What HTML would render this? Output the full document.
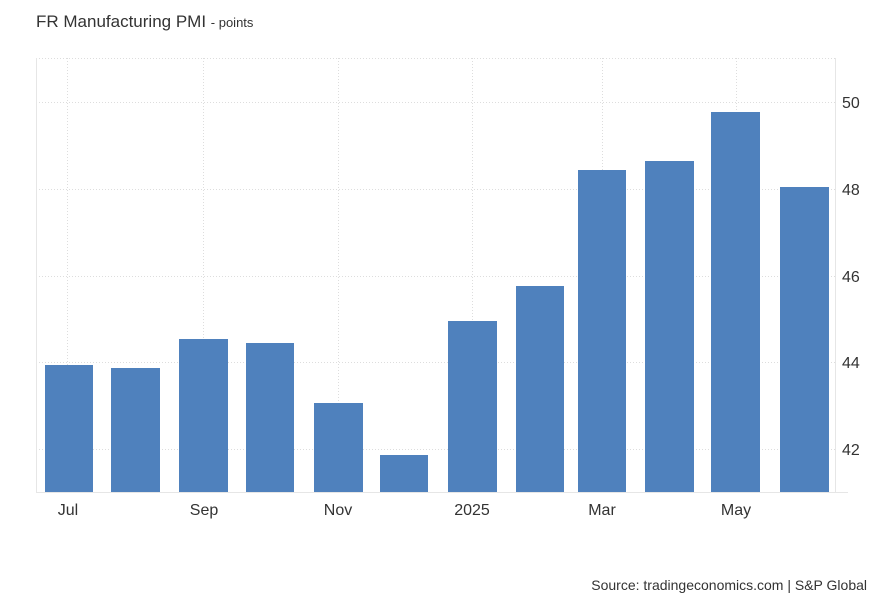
<!DOCTYPE html>
<html><head><style>
body{margin:0;background:#fff;width:882px;height:603px;overflow:hidden;font-family:"Liberation Sans",sans-serif}
</style></head><body>
<svg width="882" height="603" xmlns="http://www.w3.org/2000/svg" font-family="Liberation Sans, sans-serif">
<text x="36" y="27" font-size="17" fill="#333">FR Manufacturing PMI <tspan font-size="13">- points</tspan></text>
<g stroke="#ddd" stroke-dasharray="1,2" stroke-width="1">
<line x1="36" y1="58.5" x2="836" y2="58.5"/>
<line x1="36" y1="102.5" x2="836" y2="102.5"/>
<line x1="36" y1="189.5" x2="836" y2="189.5"/>
<line x1="36" y1="276.5" x2="836" y2="276.5"/>
<line x1="36" y1="362.5" x2="836" y2="362.5"/>
<line x1="36" y1="449.5" x2="836" y2="449.5"/>
<line x1="67.5" y1="58" x2="67.5" y2="492"/>
<line x1="203.5" y1="58" x2="203.5" y2="492"/>
<line x1="338.5" y1="58" x2="338.5" y2="492"/>
<line x1="472.5" y1="58" x2="472.5" y2="492"/>
<line x1="602.5" y1="58" x2="602.5" y2="492"/>
<line x1="736.5" y1="58" x2="736.5" y2="492"/>
</g>
<line x1="36.5" y1="58" x2="36.5" y2="492" stroke="#e6e6e6"/>
<line x1="835.5" y1="58" x2="835.5" y2="492" stroke="#e6e6e6"/>
<g fill="#4f81bd">
<rect x="45" y="365" width="48" height="127"/>
<rect x="111" y="368" width="49" height="124"/>
<rect x="179" y="339" width="49" height="153"/>
<rect x="246" y="343" width="48" height="149"/>
<rect x="314" y="403" width="49" height="89"/>
<rect x="380" y="455" width="48" height="37"/>
<rect x="448" y="321" width="49" height="171"/>
<rect x="516" y="286" width="48" height="206"/>
<rect x="578" y="170" width="48" height="322"/>
<rect x="645" y="161" width="49" height="331"/>
<rect x="711" y="112" width="49" height="380"/>
<rect x="780" y="187" width="49" height="305"/>
</g>
<line x1="36" y1="492.5" x2="848" y2="492.5" stroke="#e6e6e6"/>
<g font-size="16" fill="#333">
<text x="842" y="108">50</text>
<text x="842" y="195">48</text>
<text x="842" y="282">46</text>
<text x="842" y="368">44</text>
<text x="842" y="455">42</text>
</g>
<g font-size="16" fill="#333" text-anchor="middle">
<text x="68" y="515">Jul</text>
<text x="204" y="515">Sep</text>
<text x="338" y="515">Nov</text>
<text x="472" y="515">2025</text>
<text x="602" y="515">Mar</text>
<text x="736" y="515">May</text>
</g>
<text x="867" y="590" font-size="14" fill="#333" text-anchor="end">Source: tradingeconomics.com | S&amp;P Global</text>
</svg>
</body></html>
